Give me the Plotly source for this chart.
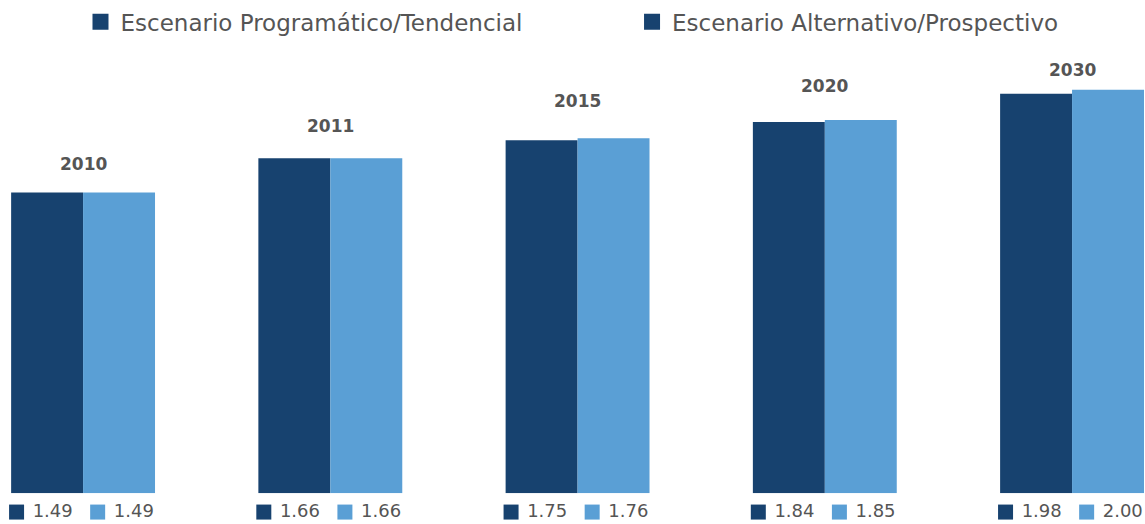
import plotly.graph_objects as go

years = ["2010", "2011", "2015", "2020", "2030"]
programatico = [1.49, 1.66, 1.75, 1.84, 1.98]
alternativo = [1.49, 1.66, 1.76, 1.85, 2.00]
series_names = ["Escenario Programático/Tendencial", "Escenario Alternativo/Prospectivo"]

DARK = "#17426F"
LIGHT = "#5A9FD5"
GRAY = "#555555"
FONT = "DejaVu Sans"

xs = list(range(len(years)))

fig = go.Figure()

fig.add_trace(go.Bar(x=xs, y=programatico, marker_color=DARK, marker_line_width=0,
                     name=series_names[0], showlegend=False, hoverinfo="y"))
fig.add_trace(go.Bar(x=xs, y=alternativo, marker_color=LIGHT, marker_line_width=0,
                     name=series_names[1], showlegend=False, hoverinfo="y"))

# legend entries (both shown with dark swatch, as in the original)
for nm, lg in zip(series_names, ["legend", "legend2"]):
    fig.add_trace(go.Scatter(x=[None], y=[None], mode="markers", name=nm, legend=lg,
                             marker=dict(symbol="square", size=16, color=DARK)))

# value keys below each group (in a thin strip subplot under the bars)
strip_y = 12
fig.add_trace(go.Scatter(
    x=[x - 0.269 for x in xs], y=[strip_y] * len(xs), mode="markers+text",
    marker=dict(symbol="square", size=15, color=DARK),
    text=["\u00a0" + f"{v:.2f}" for v in programatico], textposition="middle right",
    textfont=dict(family=FONT, size=18, color=GRAY), yaxis="y2",
    cliponaxis=False, showlegend=False, hoverinfo="skip"))
fig.add_trace(go.Scatter(
    x=[x + 0.059 for x in xs], y=[strip_y] * len(xs), mode="markers+text",
    marker=dict(symbol="square", size=15, color=LIGHT),
    text=["\u00a0" + f"{v:.2f}" for v in alternativo], textposition="middle right",
    textfont=dict(family=FONT, size=18, color=GRAY), yaxis="y2",
    cliponaxis=False, showlegend=False, hoverinfo="skip"))

label_shift = [29, 32.5, 37, 34, 20]
for i, yr in enumerate(years):
    fig.add_annotation(x=xs[i], y=max(programatico[i], alternativo[i]), text=yr,
                       showarrow=False, yanchor="middle", yshift=label_shift[i],
                       font=dict(family=FONT, size=17, color=GRAY, weight="bold"))

H = 524
strip = 31 / H
legend_font = dict(family=FONT, size=23, color=GRAY)
axis_off = dict(showticklabels=False, showgrid=False, zeroline=False, showline=False, ticks="")
fig.update_layout(
    width=1145, height=H,
    margin=dict(l=0, r=0, t=0, b=0),
    paper_bgcolor="white", plot_bgcolor="white",
    barmode="group", bargap=0.418, bargroupgap=0,
    font=dict(family=FONT, color=GRAY),
    xaxis=dict(range=[-0.336, 4.295], anchor="y", **axis_off),
    yaxis=dict(range=[0, 2.43], domain=[strip, 1], **axis_off),
    yaxis2=dict(range=[0, 31], domain=[0, strip], anchor="x", **axis_off),
    legend=dict(orientation="h", x=0.0703, xanchor="left", y=1.005, yanchor="top",
                font=legend_font, bgcolor="rgba(0,0,0,0)"),
    legend2=dict(orientation="h", x=0.552, xanchor="left", y=1.005, yanchor="top",
                 font=legend_font, bgcolor="rgba(0,0,0,0)"),
)

fig.write_html("out.html", config={"displayModeBar": False},
               post_script="document.body.style.margin='0';")
